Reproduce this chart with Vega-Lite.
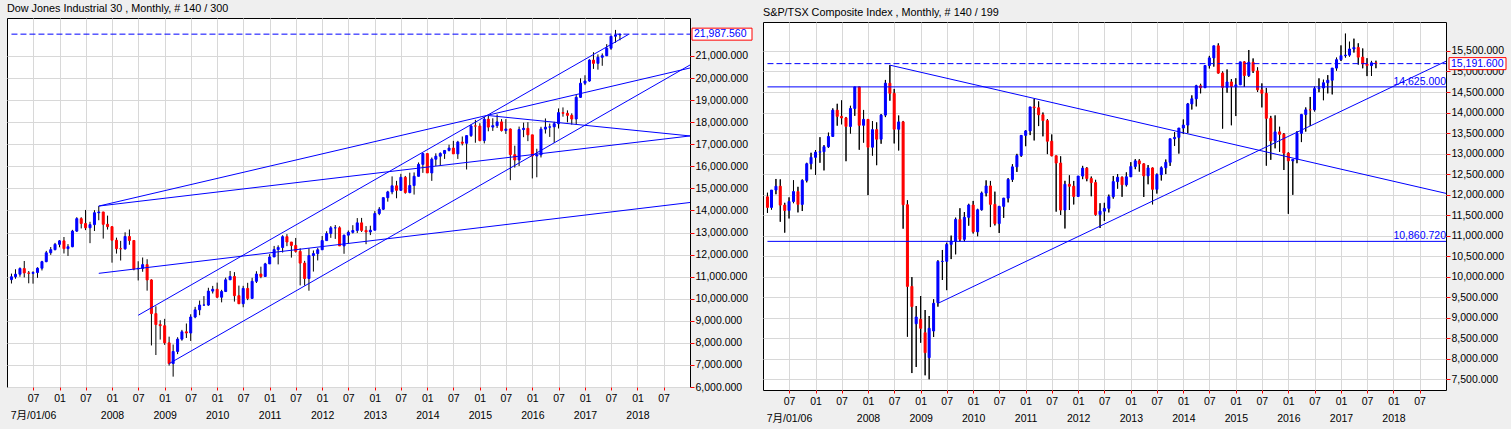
{
  "$schema": "https://vega.github.io/schema/vega-lite/v6.json",
  "background": "#efefef",
  "padding": {"left": 6, "top": 2, "right": 4, "bottom": 5},
  "bounds": "flush",
  "spacing": 73,
  "config": {
    "font": "Liberation Sans, Noto Sans CJK JP, sans-serif",
    "view": {"stroke": "#000000", "fill": "#ffffff", "strokeWidth": 1},
    "axis": {"gridColor": "#d8d8d8", "gridWidth": 1, "gridOpacity": 1, "tickColor": "#ff0000", "domain": false, "labelFont": "Liberation Sans, Noto Sans CJK JP, sans-serif", "labelFontSize": 10.5, "labelColor": "#000000", "title": null, "labelOverlap": false},
    "title": {"anchor": "start", "fontSize": 10.8, "fontWeight": "normal", "color": "#000000", "offset": 4, "font": "Liberation Sans, sans-serif"}
  },
  "datasets": {
    "dow": [
      {"t":"2006-02-01","o":10864.86,"h":11137,"l":10689,"c":10993.41},
      {"t":"2006-03-01","o":10993.41,"h":11334,"l":10906,"c":11109.32},
      {"t":"2006-04-01","o":11109.32,"h":11419,"l":10996,"c":11367.14},
      {"t":"2006-05-01","o":11367.14,"h":11709,"l":10965,"c":11168.31},
      {"t":"2006-06-01","o":11168.31,"h":11255,"l":10698,"c":11150.22},
      {"t":"2006-07-01","o":11150.22,"h":11244,"l":10683,"c":11185.68},
      {"t":"2006-08-01","o":11185.68,"h":11424,"l":10946,"c":11381.15},
      {"t":"2006-09-01","o":11381.15,"h":11718,"l":11280,"c":11679.07},
      {"t":"2006-10-01","o":11679.07,"h":12167,"l":11655,"c":12080.73},
      {"t":"2006-11-01","o":12080.73,"h":12342,"l":11986,"c":12221.93},
      {"t":"2006-12-01","o":12221.93,"h":12529,"l":12194,"c":12463.15},
      {"t":"2007-01-01","o":12463.15,"h":12657,"l":12330,"c":12621.69},
      {"t":"2007-02-01","o":12621.69,"h":12796,"l":12050,"c":12268.63},
      {"t":"2007-03-01","o":12268.63,"h":12474,"l":11939,"c":12354.35},
      {"t":"2007-04-01","o":12354.35,"h":13120,"l":12334,"c":13062.91},
      {"t":"2007-05-01","o":13062.91,"h":13693,"l":13026,"c":13627.64},
      {"t":"2007-06-01","o":13627.64,"h":13692,"l":13183,"c":13408.62},
      {"t":"2007-07-01","o":13408.62,"h":14022,"l":13108,"c":13211.99},
      {"t":"2007-08-01","o":13211.99,"h":13485,"l":12517,"c":13357.74},
      {"t":"2007-09-01","o":13357.74,"h":14011,"l":13067,"c":13895.63},
      {"t":"2007-10-01","o":13895.63,"h":14198,"l":13555,"c":13930.01},
      {"t":"2007-11-01","o":13930.01,"h":13936,"l":12724,"c":13371.72},
      {"t":"2007-12-01","o":13371.72,"h":13765,"l":13133,"c":13264.82},
      {"t":"2008-01-01","o":13264.82,"h":13279,"l":11634,"c":12650.36},
      {"t":"2008-02-01","o":12650.36,"h":12767,"l":12045,"c":12266.39},
      {"t":"2008-03-01","o":12266.39,"h":12622,"l":11731,"c":12262.89},
      {"t":"2008-04-01","o":12262.89,"h":13010,"l":12219,"c":12820.13},
      {"t":"2008-05-01","o":12820.13,"h":13136,"l":12445,"c":12638.32},
      {"t":"2008-06-01","o":12638.32,"h":12657,"l":11287,"c":11350.01},
      {"t":"2008-07-01","o":11350.01,"h":11698,"l":10827,"c":11378.02},
      {"t":"2008-08-01","o":11378.02,"h":11867,"l":11221,"c":11543.55},
      {"t":"2008-09-01","o":11543.55,"h":11790,"l":10365,"c":10850.66},
      {"t":"2008-10-01","o":10850.66,"h":10882,"l":7882,"c":9325.01},
      {"t":"2008-11-01","o":9325.01,"h":9654,"l":7449,"c":8829.04},
      {"t":"2008-12-01","o":8829.04,"h":9026,"l":8149,"c":8776.39},
      {"t":"2009-01-01","o":8776.39,"h":9088,"l":7909,"c":8000.86},
      {"t":"2009-02-01","o":8000.86,"h":8281,"l":6970,"c":7062.93},
      {"t":"2009-03-01","o":7062.93,"h":7924,"l":6469,"c":7608.92},
      {"t":"2009-04-01","o":7608.92,"h":8254,"l":7490,"c":8168.12},
      {"t":"2009-05-01","o":8168.12,"h":8588,"l":8098,"c":8500.33},
      {"t":"2009-06-01","o":8500.33,"h":8877,"l":8221,"c":8447.0},
      {"t":"2009-07-01","o":8447.0,"h":9296,"l":8087,"c":9171.61},
      {"t":"2009-08-01","o":9171.61,"h":9630,"l":9116,"c":9496.28},
      {"t":"2009-09-01","o":9496.28,"h":9917,"l":9253,"c":9712.28},
      {"t":"2009-10-01","o":9712.28,"h":10119,"l":9680,"c":9712.73},
      {"t":"2009-11-01","o":9712.73,"h":10496,"l":9678,"c":10344.84},
      {"t":"2009-12-01","o":10344.84,"h":10580,"l":10236,"c":10428.05},
      {"t":"2010-01-01","o":10428.05,"h":10729,"l":10026,"c":10067.33},
      {"t":"2010-02-01","o":10067.33,"h":10403,"l":9835,"c":10325.26},
      {"t":"2010-03-01","o":10325.26,"h":10954,"l":10314,"c":10856.63},
      {"t":"2010-04-01","o":10856.63,"h":11258,"l":10856,"c":11008.61},
      {"t":"2010-05-01","o":11008.61,"h":11205,"l":9870,"c":10136.63},
      {"t":"2010-06-01","o":10136.63,"h":10595,"l":9757,"c":9774.02},
      {"t":"2010-07-01","o":9774.02,"h":10584,"l":9614,"c":10465.94},
      {"t":"2010-08-01","o":10465.94,"h":10720,"l":9936,"c":10014.72},
      {"t":"2010-09-01","o":10014.72,"h":10948,"l":10010,"c":10788.05},
      {"t":"2010-10-01","o":10788.05,"h":11244,"l":10711,"c":11118.49},
      {"t":"2010-11-01","o":11118.49,"h":11451,"l":10929,"c":11006.02},
      {"t":"2010-12-01","o":11006.02,"h":11625,"l":11006,"c":11577.51},
      {"t":"2011-01-01","o":11577.51,"h":12020,"l":11578,"c":11891.93},
      {"t":"2011-02-01","o":11891.93,"h":12391,"l":11893,"c":12226.34},
      {"t":"2011-03-01","o":12226.34,"h":12419,"l":11555,"c":12319.73},
      {"t":"2011-04-01","o":12319.73,"h":12876,"l":12093,"c":12810.54},
      {"t":"2011-05-01","o":12810.54,"h":12928,"l":12381,"c":12569.79},
      {"t":"2011-06-01","o":12569.79,"h":12570,"l":11862,"c":12414.34},
      {"t":"2011-07-01","o":12414.34,"h":12753,"l":12088,"c":12143.24},
      {"t":"2011-08-01","o":12143.24,"h":12284,"l":10604,"c":11613.53},
      {"t":"2011-09-01","o":11613.53,"h":11716,"l":10597,"c":10913.38},
      {"t":"2011-10-01","o":10913.38,"h":12284,"l":10362,"c":11955.01},
      {"t":"2011-11-01","o":11955.01,"h":12187,"l":11231,"c":12045.68},
      {"t":"2011-12-01","o":12045.68,"h":12294,"l":11735,"c":12217.56},
      {"t":"2012-01-01","o":12217.56,"h":12841,"l":12218,"c":12632.91},
      {"t":"2012-02-01","o":12632.91,"h":13055,"l":12627,"c":12952.07},
      {"t":"2012-03-01","o":12952.07,"h":13290,"l":12757,"c":13212.04},
      {"t":"2012-04-01","o":13212.04,"h":13338,"l":12710,"c":13213.63},
      {"t":"2012-05-01","o":13213.63,"h":13280,"l":12392,"c":12393.45},
      {"t":"2012-06-01","o":12393.45,"h":12898,"l":12036,"c":12880.09},
      {"t":"2012-07-01","o":12880.09,"h":13091,"l":12492,"c":13008.68},
      {"t":"2012-08-01","o":13008.68,"h":13331,"l":12956,"c":13090.84},
      {"t":"2012-09-01","o":13090.84,"h":13653,"l":12978,"c":13437.13},
      {"t":"2012-10-01","o":13437.13,"h":13661,"l":13027,"c":13096.46},
      {"t":"2012-11-01","o":13096.46,"h":13290,"l":12471,"c":13025.58},
      {"t":"2012-12-01","o":13025.58,"h":13307,"l":12883,"c":13104.14},
      {"t":"2013-01-01","o":13104.14,"h":13970,"l":13104,"c":13860.58},
      {"t":"2013-02-01","o":13860.58,"h":14150,"l":13784,"c":14054.49},
      {"t":"2013-03-01","o":14054.49,"h":14586,"l":14020,"c":14578.54},
      {"t":"2013-04-01","o":14578.54,"h":14888,"l":14398,"c":14839.8},
      {"t":"2013-05-01","o":14839.8,"h":15542,"l":14733,"c":15115.57},
      {"t":"2013-06-01","o":15115.57,"h":15340,"l":14551,"c":14909.6},
      {"t":"2013-07-01","o":14909.6,"h":15658,"l":14910,"c":15499.54},
      {"t":"2013-08-01","o":15499.54,"h":15563,"l":14760,"c":14810.31},
      {"t":"2013-09-01","o":14810.31,"h":15709,"l":14777,"c":15129.67},
      {"t":"2013-10-01","o":15129.67,"h":15722,"l":14719,"c":15545.75},
      {"t":"2013-11-01","o":15545.75,"h":16174,"l":15545,"c":16086.41},
      {"t":"2013-12-01","o":16086.41,"h":16588,"l":15703,"c":16576.66},
      {"t":"2014-01-01","o":16576.66,"h":16589,"l":15699,"c":15698.85},
      {"t":"2014-02-01","o":15698.85,"h":16398,"l":15340,"c":16321.71},
      {"t":"2014-03-01","o":16321.71,"h":16588,"l":16015,"c":16457.66},
      {"t":"2014-04-01","o":16457.66,"h":16631,"l":16015,"c":16580.84},
      {"t":"2014-05-01","o":16580.84,"h":16735,"l":16334,"c":16717.17},
      {"t":"2014-06-01","o":16717.17,"h":16978,"l":16674,"c":16826.6},
      {"t":"2014-07-01","o":16826.6,"h":17151,"l":16563,"c":16563.3},
      {"t":"2014-08-01","o":16563.3,"h":17153,"l":16334,"c":17098.45},
      {"t":"2014-09-01","o":17098.45,"h":17350,"l":16945,"c":17042.9},
      {"t":"2014-10-01","o":17042.9,"h":17395,"l":15855,"c":17390.52},
      {"t":"2014-11-01","o":17390.52,"h":17895,"l":17331,"c":17828.24},
      {"t":"2014-12-01","o":17828.24,"h":18103,"l":17067,"c":17823.07},
      {"t":"2015-01-01","o":17823.07,"h":17951,"l":17136,"c":17164.95},
      {"t":"2015-02-01","o":17164.95,"h":18244,"l":17037,"c":18132.7},
      {"t":"2015-03-01","o":18132.7,"h":18289,"l":17585,"c":17776.12},
      {"t":"2015-04-01","o":17776.12,"h":18175,"l":17603,"c":17840.52},
      {"t":"2015-05-01","o":17840.52,"h":18351,"l":17735,"c":18010.68},
      {"t":"2015-06-01","o":18010.68,"h":18137,"l":17576,"c":17619.51},
      {"t":"2015-07-01","o":17619.51,"h":18137,"l":17465,"c":17689.86},
      {"t":"2015-08-01","o":17689.86,"h":17712,"l":15370,"c":16528.03},
      {"t":"2015-09-01","o":16528.03,"h":16933,"l":15942,"c":16284.7},
      {"t":"2015-10-01","o":16284.7,"h":17799,"l":16013,"c":17663.54},
      {"t":"2015-11-01","o":17663.54,"h":17978,"l":17320,"c":17719.92},
      {"t":"2015-12-01","o":17719.92,"h":17996,"l":17139,"c":17425.03},
      {"t":"2016-01-01","o":17425.03,"h":17425,"l":15451,"c":16466.3},
      {"t":"2016-02-01","o":16466.3,"h":16795,"l":15503,"c":16516.5},
      {"t":"2016-03-01","o":16516.5,"h":17790,"l":16400,"c":17685.09},
      {"t":"2016-04-01","o":17685.09,"h":18167,"l":17484,"c":17773.64},
      {"t":"2016-05-01","o":17773.64,"h":17934,"l":17331,"c":17787.2},
      {"t":"2016-06-01","o":17787.2,"h":18016,"l":17063,"c":17929.99},
      {"t":"2016-07-01","o":17929.99,"h":18622,"l":17713,"c":18432.24},
      {"t":"2016-08-01","o":18432.24,"h":18668,"l":18247,"c":18400.88},
      {"t":"2016-09-01","o":18400.88,"h":18534,"l":17992,"c":18308.15},
      {"t":"2016-10-01","o":18308.15,"h":18399,"l":17888,"c":18142.42},
      {"t":"2016-11-01","o":18142.42,"h":19226,"l":17884,"c":19123.58},
      {"t":"2016-12-01","o":19123.58,"h":19987,"l":19098,"c":19762.6},
      {"t":"2017-01-01","o":19762.6,"h":20125,"l":19678,"c":19864.09},
      {"t":"2017-02-01","o":19864.09,"h":20851,"l":19831,"c":20812.24},
      {"t":"2017-03-01","o":20812.24,"h":21169,"l":20413,"c":20663.22},
      {"t":"2017-04-01","o":20663.22,"h":21071,"l":20379,"c":20940.51},
      {"t":"2017-05-01","o":20940.51,"h":21113,"l":20554,"c":21008.65},
      {"t":"2017-06-01","o":21008.65,"h":21535,"l":20994,"c":21349.63},
      {"t":"2017-07-01","o":21349.63,"h":21930,"l":21279,"c":21891.12},
      {"t":"2017-08-01","o":21891.12,"h":22179,"l":21600,"c":21948.1},
      {"t":"2017-09-01","o":21948.1,"h":22000,"l":21709,"c":21987.56}
    ],
    "tsx": [
      {"t":"2006-02-01","o":11946,"h":12045,"l":11555,"c":11688},
      {"t":"2006-03-01","o":11688,"h":12112,"l":11635,"c":12111},
      {"t":"2006-04-01","o":12111,"h":12381,"l":12009,"c":12204},
      {"t":"2006-05-01","o":12204,"h":12371,"l":11339,"c":11745},
      {"t":"2006-06-01","o":11745,"h":11800,"l":11073,"c":11613},
      {"t":"2006-07-01","o":11613,"h":11933,"l":11419,"c":11832},
      {"t":"2006-08-01","o":11832,"h":12349,"l":11791,"c":12074},
      {"t":"2006-09-01","o":12074,"h":12190,"l":11567,"c":11761},
      {"t":"2006-10-01","o":11761,"h":12370,"l":11600,"c":12345},
      {"t":"2006-11-01","o":12345,"h":12775,"l":12299,"c":12752},
      {"t":"2006-12-01","o":12752,"h":13020,"l":12616,"c":12908},
      {"t":"2007-01-01","o":12908,"h":13086,"l":12480,"c":13034},
      {"t":"2007-02-01","o":13034,"h":13399,"l":12776,"c":13045},
      {"t":"2007-03-01","o":13045,"h":13205,"l":12590,"c":13166},
      {"t":"2007-04-01","o":13166,"h":13510,"l":13140,"c":13417},
      {"t":"2007-05-01","o":13417,"h":14101,"l":13410,"c":14057},
      {"t":"2007-06-01","o":14057,"h":14213,"l":13680,"c":13907},
      {"t":"2007-07-01","o":13907,"h":14296,"l":13713,"c":13869},
      {"t":"2007-08-01","o":13869,"h":13892,"l":12814,"c":13660},
      {"t":"2007-09-01","o":13660,"h":14164,"l":13489,"c":14099},
      {"t":"2007-10-01","o":14099,"h":14625,"l":13920,"c":14625},
      {"t":"2007-11-01","o":14625,"h":14630,"l":13093,"c":13689},
      {"t":"2007-12-01","o":13689,"h":14063,"l":13267,"c":13833},
      {"t":"2008-01-01","o":13833,"h":13838,"l":11988,"c":13155},
      {"t":"2008-02-01","o":13155,"h":13791,"l":12951,"c":13583},
      {"t":"2008-03-01","o":13583,"h":13760,"l":12717,"c":13350},
      {"t":"2008-04-01","o":13350,"h":13962,"l":13240,"c":13937},
      {"t":"2008-05-01","o":13937,"h":14794,"l":13889,"c":14715},
      {"t":"2008-06-01","o":14715,"h":15155,"l":14289,"c":14467},
      {"t":"2008-07-01","o":14467,"h":14575,"l":13247,"c":13593},
      {"t":"2008-08-01","o":13593,"h":13927,"l":13076,"c":13771},
      {"t":"2008-09-01","o":13771,"h":13795,"l":11170,"c":11753},
      {"t":"2008-10-01","o":11753,"h":11862,"l":8537,"c":9763},
      {"t":"2008-11-01","o":9763,"h":9990,"l":7652,"c":9271},
      {"t":"2008-12-01","o":8854,"h":9286,"l":7800,"c":9018},
      {"t":"2009-01-01","o":8962,"h":9529,"l":8391,"c":8742},
      {"t":"2009-02-01","o":8635,"h":9188,"l":7597,"c":8148},
      {"t":"2009-03-01","o":8026,"h":9042,"l":7500,"c":8742},
      {"t":"2009-04-01","o":8677,"h":9450,"l":8530,"c":9352},
      {"t":"2009-05-01","o":9366,"h":10401,"l":9270,"c":10370},
      {"t":"2009-06-01","o":10370,"h":10651,"l":9919,"c":10375},
      {"t":"2009-07-01","o":10375,"h":10828,"l":9672,"c":10787},
      {"t":"2009-08-01","o":10787,"h":11001,"l":10429,"c":10868},
      {"t":"2009-09-01","o":10868,"h":11438,"l":10545,"c":11395},
      {"t":"2009-10-01","o":11395,"h":11668,"l":10863,"c":10911},
      {"t":"2009-11-01","o":10911,"h":11574,"l":10862,"c":11447},
      {"t":"2009-12-01","o":11447,"h":11776,"l":11243,"c":11746},
      {"t":"2010-01-01","o":11746,"h":11846,"l":11053,"c":11094},
      {"t":"2010-02-01","o":11094,"h":11654,"l":10986,"c":11630},
      {"t":"2010-03-01","o":11630,"h":12071,"l":11613,"c":12038},
      {"t":"2010-04-01","o":12038,"h":12347,"l":11958,"c":12211},
      {"t":"2010-05-01","o":12211,"h":12333,"l":11209,"c":11763},
      {"t":"2010-06-01","o":11763,"h":12072,"l":11250,"c":11294},
      {"t":"2010-07-01","o":11294,"h":11725,"l":11065,"c":11713},
      {"t":"2010-08-01","o":11713,"h":11920,"l":11435,"c":11914},
      {"t":"2010-09-01","o":11914,"h":12402,"l":11811,"c":12369},
      {"t":"2010-10-01","o":12369,"h":12740,"l":12310,"c":12676},
      {"t":"2010-11-01","o":12676,"h":12993,"l":12553,"c":12953},
      {"t":"2010-12-01","o":12953,"h":13450,"l":12920,"c":13443},
      {"t":"2011-01-01","o":13443,"h":13570,"l":13180,"c":13552},
      {"t":"2011-02-01","o":13552,"h":14136,"l":13450,"c":14137},
      {"t":"2011-03-01","o":14137,"h":14329,"l":13320,"c":14116},
      {"t":"2011-04-01","o":14116,"h":14270,"l":13670,"c":13945},
      {"t":"2011-05-01","o":13945,"h":14000,"l":13420,"c":13803},
      {"t":"2011-06-01","o":13803,"h":13839,"l":12987,"c":13301},
      {"t":"2011-07-01","o":13301,"h":13465,"l":12935,"c":12946},
      {"t":"2011-08-01","o":12946,"h":12950,"l":11585,"c":12769},
      {"t":"2011-09-01","o":12769,"h":12933,"l":11505,"c":11624},
      {"t":"2011-10-01","o":11624,"h":12336,"l":11175,"c":12252},
      {"t":"2011-11-01","o":12252,"h":12470,"l":11625,"c":12204},
      {"t":"2011-12-01","o":12204,"h":12333,"l":11760,"c":11955},
      {"t":"2012-01-01","o":11955,"h":12452,"l":11952,"c":12452},
      {"t":"2012-02-01","o":12452,"h":12700,"l":12377,"c":12644},
      {"t":"2012-03-01","o":12644,"h":12670,"l":12326,"c":12392},
      {"t":"2012-04-01","o":12392,"h":12440,"l":11960,"c":12293},
      {"t":"2012-05-01","o":12293,"h":12360,"l":11490,"c":11513},
      {"t":"2012-06-01","o":11513,"h":11790,"l":11187,"c":11597},
      {"t":"2012-07-01","o":11597,"h":11800,"l":11357,"c":11665},
      {"t":"2012-08-01","o":11665,"h":12000,"l":11566,"c":11949},
      {"t":"2012-09-01","o":11949,"h":12454,"l":11902,"c":12317},
      {"t":"2012-10-01","o":12317,"h":12500,"l":12145,"c":12423},
      {"t":"2012-11-01","o":12423,"h":12441,"l":11947,"c":12239},
      {"t":"2012-12-01","o":12239,"h":12542,"l":12200,"c":12434},
      {"t":"2013-01-01","o":12434,"h":12790,"l":12430,"c":12685},
      {"t":"2013-02-01","o":12685,"h":12864,"l":12620,"c":12822},
      {"t":"2013-03-01","o":12822,"h":12862,"l":12560,"c":12750},
      {"t":"2013-04-01","o":12750,"h":12760,"l":11943,"c":12457},
      {"t":"2013-05-01","o":12457,"h":12720,"l":12252,"c":12650},
      {"t":"2013-06-01","o":12650,"h":12660,"l":11762,"c":12129},
      {"t":"2013-07-01","o":12129,"h":12513,"l":12026,"c":12487},
      {"t":"2013-08-01","o":12487,"h":12685,"l":12344,"c":12654},
      {"t":"2013-09-01","o":12654,"h":12855,"l":12500,"c":12787},
      {"t":"2013-10-01","o":12787,"h":13361,"l":12700,"c":13361},
      {"t":"2013-11-01","o":13361,"h":13522,"l":13187,"c":13395},
      {"t":"2013-12-01","o":13395,"h":13622,"l":13000,"c":13622},
      {"t":"2014-01-01","o":13622,"h":13830,"l":13480,"c":13695},
      {"t":"2014-02-01","o":13695,"h":14233,"l":13500,"c":14210},
      {"t":"2014-03-01","o":14210,"h":14418,"l":14074,"c":14335},
      {"t":"2014-04-01","o":14335,"h":14674,"l":14150,"c":14652},
      {"t":"2014-05-01","o":14652,"h":14700,"l":14468,"c":14604},
      {"t":"2014-06-01","o":14604,"h":15146,"l":14600,"c":15146},
      {"t":"2014-07-01","o":15146,"h":15380,"l":15075,"c":15331},
      {"t":"2014-08-01","o":15331,"h":15626,"l":15119,"c":15626},
      {"t":"2014-09-01","o":15626,"h":15685,"l":14950,"c":14961},
      {"t":"2014-10-01","o":14961,"h":15000,"l":13608,"c":14613},
      {"t":"2014-11-01","o":14613,"h":15050,"l":14483,"c":14745},
      {"t":"2014-12-01","o":14745,"h":14815,"l":13690,"c":14632},
      {"t":"2015-01-01","o":14632,"h":14835,"l":13914,"c":14674},
      {"t":"2015-02-01","o":14674,"h":15234,"l":14700,"c":15234},
      {"t":"2015-03-01","o":15234,"h":15250,"l":14623,"c":14902},
      {"t":"2015-04-01","o":14902,"h":15524,"l":14870,"c":15225},
      {"t":"2015-05-01","o":15225,"h":15318,"l":14964,"c":15014},
      {"t":"2015-06-01","o":15014,"h":15100,"l":14500,"c":14553},
      {"t":"2015-07-01","o":14553,"h":14710,"l":14125,"c":14468},
      {"t":"2015-08-01","o":14468,"h":14600,"l":12705,"c":13859},
      {"t":"2015-09-01","o":13859,"h":13918,"l":12848,"c":13307},
      {"t":"2015-10-01","o":13307,"h":13930,"l":13128,"c":13529},
      {"t":"2015-11-01","o":13529,"h":13653,"l":13044,"c":13470},
      {"t":"2015-12-01","o":13470,"h":13500,"l":12600,"c":13010},
      {"t":"2016-01-01","o":13010,"h":13030,"l":11531,"c":12822},
      {"t":"2016-02-01","o":12822,"h":12862,"l":11995,"c":12860},
      {"t":"2016-03-01","o":12860,"h":13545,"l":12765,"c":13494},
      {"t":"2016-04-01","o":13494,"h":13966,"l":13280,"c":13951},
      {"t":"2016-05-01","o":13951,"h":14124,"l":13536,"c":14066},
      {"t":"2016-06-01","o":14066,"h":14380,"l":13672,"c":14065},
      {"t":"2016-07-01","o":14065,"h":14630,"l":14027,"c":14583},
      {"t":"2016-08-01","o":14583,"h":14833,"l":14495,"c":14598},
      {"t":"2016-09-01","o":14598,"h":14800,"l":14300,"c":14726},
      {"t":"2016-10-01","o":14726,"h":14911,"l":14467,"c":14787},
      {"t":"2016-11-01","o":14787,"h":15083,"l":14442,"c":15083},
      {"t":"2016-12-01","o":15083,"h":15338,"l":15022,"c":15288},
      {"t":"2017-01-01","o":15288,"h":15636,"l":15255,"c":15386},
      {"t":"2017-02-01","o":15386,"h":15923,"l":15340,"c":15399},
      {"t":"2017-03-01","o":15399,"h":15726,"l":15364,"c":15548},
      {"t":"2017-04-01","o":15548,"h":15800,"l":15462,"c":15586},
      {"t":"2017-05-01","o":15586,"h":15687,"l":15168,"c":15350},
      {"t":"2017-06-01","o":15350,"h":15561,"l":15078,"c":15182},
      {"t":"2017-07-01","o":15182,"h":15324,"l":14888,"c":15144},
      {"t":"2017-08-01","o":15144,"h":15258,"l":14891,"c":15212},
      {"t":"2017-09-01","o":15212,"h":15263,"l":15080,"c":15191.6}
    ],
    "dowLines": [
      {"id":"A","t":"2007-10-01","v":14198},{"id":"A","t":"2019-01-01","v":20454},
      {"id":"B","t":"2007-10-01","v":14198},{"id":"B","t":"2019-01-01","v":17375},
      {"id":"C","t":"2015-03-01","v":18300},{"id":"C","t":"2019-01-01","v":17375},
      {"id":"L","t":"2007-10-01","v":11150},{"id":"L","t":"2019-01-01","v":14360},
      {"id":"CL","t":"2009-02-01","v":7060},{"id":"CL","t":"2019-01-01","v":20590},
      {"id":"CU","t":"2008-07-01","v":9250},{"id":"CU","t":"2017-11-01","v":21980}
    ],
    "dowDash": [
      {"t":"2006-02-01","v":21987.56},{"t":"2019-01-01","v":21987.56}
    ],
    "dowLast": [{"v":21987.56,"label":"21,987.560"}],
    "tsxLines": [
      {"id":"H1","t":"2006-02-01","v":14625},{"id":"H1","t":"2019-01-01","v":14625},
      {"id":"H2","t":"2006-02-01","v":10860.72},{"id":"H2","t":"2019-01-01","v":10860.72},
      {"id":"D","t":"2008-06-01","v":15155},{"id":"D","t":"2019-01-01","v":12030},
      {"id":"U","t":"2009-05-01","v":9350},{"id":"U","t":"2019-01-01","v":15250}
    ],
    "tsxDash": [
      {"t":"2006-02-01","v":15191.6},{"t":"2019-01-01","v":15191.6}
    ],
    "tsxLast": [{"v":15191.6,"label":"15,191.600"}],
    "tsxLevels": [{"v":14625,"label":"14,625.000"},{"v":10860.72,"label":"10,860.720"}]
  },
  "hconcat": [
    {
      "width": 683,
      "height": 369,
      "title": {"text": "Dow Jones Industrial 30 , Monthly, # 140 / 300"},
      "layer": [
        {
          "data": {"name": "dow"},
          "mark": {"type": "rule", "color": "#000000", "strokeWidth": 1},
          "encoding": {
            "x": {"field": "t", "type": "temporal",
              "scale": {"type": "utc", "domain": [1136073600000, 1546300800000], "nice": false, "padding": 0},
              "axis": {"orient": "bottom", "title": null, "grid": true, "domain": false, "tickSize": 3, "labelPadding": 3, "labelLineHeight": 17, "labelOverlap": false, "labelFlush": false, "labelBound": false, "tickCount": 100,
                "values": [1151712000000, 1167609600000, 1183248000000, 1199145600000, 1214870400000, 1230768000000, 1246406400000, 1262304000000, 1277942400000, 1293840000000, 1309478400000, 1325376000000, 1341100800000, 1356998400000, 1372636800000, 1388534400000, 1404172800000, 1420070400000, 1435708800000, 1451606400000, 1467331200000, 1483228800000, 1498867200000, 1514764800000, 1530403200000],
                "labelExpr": "utcmonth(datum.value) == 6 ? (utcyear(datum.value) == 2006 ? ['07', '7月/01/06'] : '07') : (utcyear(datum.value) == 2007 ? '01' : ['01', '' + utcyear(datum.value)])"
              }
            },
            "y": {"field": "l", "type": "quantitative",
              "scale": {"domain": [6000, 22719], "nice": false, "zero": false},
              "axis": {"orient": "right", "title": null, "grid": true, "domain": false, "tickSize": 4, "labelPadding": 1, "format": ",.3f", "labelOverlap": false, "tickCount": 100,
                "values": [6000, 7000, 8000, 9000, 10000, 11000, 12000, 13000, 14000, 15000, 16000, 17000, 18000, 19000, 20000, 21000]}
            },
            "y2": {"field": "h"}
          }
        },
        {
          "data": {"name": "dow"},
          "mark": {"type": "bar", "width": 2, "strokeWidth": 1},
          "encoding": {
            "x": {"field": "t", "type": "temporal"},
            "y": {"field": "o", "type": "quantitative"},
            "y2": {"field": "c"},
            "fill": {"condition": {"test": "datum.c < datum.o", "value": "#ff0000"}, "value": "#0000ff"},
            "stroke": {"condition": {"test": "datum.c < datum.o", "value": "#ff0000"}, "value": "#0000ff"}
          }
        },
        {
          "data": {"name": "dowLines"},
          "mark": {"type": "line", "color": "#0000ff", "strokeWidth": 1},
          "encoding": {
            "x": {"field": "t", "type": "temporal"},
            "y": {"field": "v", "type": "quantitative"},
            "detail": {"field": "id"}
          }
        },
        {
          "data": {"name": "dowDash"},
          "mark": {"type": "line", "color": "#0000ff", "strokeWidth": 1, "strokeDash": [6, 3]},
          "encoding": {
            "x": {"field": "t", "type": "temporal"},
            "y": {"field": "v", "type": "quantitative"}
          }
        },
        {
          "data": {"name": "dowLast"},
          "mark": {"type": "rect", "fill": "#ffffff", "stroke": "#ff0000", "strokeWidth": 1, "xOffset": 2, "x2Offset": 62, "yOffset": -6, "y2Offset": 6},
          "encoding": {
            "x": {"datum": 1546300800000, "type": "temporal"},
            "x2": {"datum": 1546300800000},
            "y": {"field": "v", "type": "quantitative"},
            "y2": {"field": "v"}
          }
        },
        {
          "data": {"name": "dowLast"},
          "mark": {"type": "text", "align": "left", "baseline": "middle", "dx": 4, "color": "#0000ff", "fontSize": 10.5},
          "encoding": {
            "x": {"datum": 1546300800000, "type": "temporal"},
            "y": {"field": "v", "type": "quantitative"},
            "text": {"field": "label"}
          }
        }
      ]
    },
    {
      "bounds": "flush",
      "spacing": 3,
      "vconcat": [
        {
          "width": 683,
          "height": 1,
          "data": {"values": [{"a": 1}]},
          "mark": {"type": "point", "opacity": 0},
          "encoding": {},
          "view": {"stroke": null, "fill": null}
        },
        {
          "width": 683,
          "height": 368,
          "title": {"text": "S&P/TSX Composite Index , Monthly, # 140 / 199"},
          "layer": [
            {
              "data": {"name": "tsx"},
              "mark": {"type": "rule", "color": "#000000", "strokeWidth": 1},
              "encoding": {
                "x": {"field": "t", "type": "temporal",
                  "scale": {"type": "utc", "domain": [1136073600000, 1546300800000], "nice": false, "padding": 0},
                  "axis": {"orient": "bottom", "title": null, "grid": true, "domain": false, "tickSize": 3, "labelPadding": 3, "labelLineHeight": 17, "labelOverlap": false, "labelFlush": false, "labelBound": false, "tickCount": 100,
                    "values": [1151712000000, 1167609600000, 1183248000000, 1199145600000, 1214870400000, 1230768000000, 1246406400000, 1262304000000, 1277942400000, 1293840000000, 1309478400000, 1325376000000, 1341100800000, 1356998400000, 1372636800000, 1388534400000, 1404172800000, 1420070400000, 1435708800000, 1451606400000, 1467331200000, 1483228800000, 1498867200000, 1514764800000, 1530403200000],
                    "labelExpr": "utcmonth(datum.value) == 6 ? (utcyear(datum.value) == 2006 ? ['07', '7月/01/06'] : '07') : (utcyear(datum.value) == 2007 ? '01' : ['01', '' + utcyear(datum.value)])"
                  }
                },
                "y": {"field": "l", "type": "quantitative",
                  "scale": {"domain": [7239, 16206], "nice": false, "zero": false},
                  "axis": {"orient": "right", "title": null, "grid": true, "domain": false, "tickSize": 4, "labelPadding": 1, "format": ",.3f", "labelOverlap": false, "tickCount": 100,
                    "values": [7500, 8000, 8500, 9000, 9500, 10000, 10500, 11000, 11500, 12000, 12500, 13000, 13500, 14000, 14500, 15000, 15500]}
                },
                "y2": {"field": "h"}
              }
            },
            {
              "mark": {"type": "rule", "color": "#d8d8d8", "strokeWidth": 1},
              "encoding": {"y": {"datum": 16000, "type": "quantitative"}}
            },
            {
              "data": {"name": "tsx"},
              "mark": {"type": "rule", "color": "#000000", "strokeWidth": 1},
              "encoding": {
                "x": {"field": "t", "type": "temporal"},
                "y": {"field": "l", "type": "quantitative"},
                "y2": {"field": "h"}
              }
            },
            {
              "data": {"name": "tsx"},
              "mark": {"type": "bar", "width": 2, "strokeWidth": 1},
              "encoding": {
                "x": {"field": "t", "type": "temporal"},
                "y": {"field": "o", "type": "quantitative"},
                "y2": {"field": "c"},
                "fill": {"condition": {"test": "datum.c < datum.o", "value": "#ff0000"}, "value": "#0000ff"},
                "stroke": {"condition": {"test": "datum.c < datum.o", "value": "#ff0000"}, "value": "#0000ff"}
              }
            },
            {
              "data": {"name": "tsxLines"},
              "mark": {"type": "line", "color": "#0000ff", "strokeWidth": 1},
              "encoding": {
                "x": {"field": "t", "type": "temporal"},
                "y": {"field": "v", "type": "quantitative"},
                "detail": {"field": "id"}
              }
            },
            {
              "data": {"name": "tsxDash"},
              "mark": {"type": "line", "color": "#0000ff", "strokeWidth": 1, "strokeDash": [6, 3]},
              "encoding": {
                "x": {"field": "t", "type": "temporal"},
                "y": {"field": "v", "type": "quantitative"}
              }
            },
            {
              "data": {"name": "tsxLevels"},
              "mark": {"type": "text", "align": "right", "baseline": "alphabetic", "dy": -2, "color": "#0000ff", "fontSize": 10.5},
              "encoding": {
                "x": {"datum": 1546300800000, "type": "temporal"},
                "y": {"field": "v", "type": "quantitative"},
                "text": {"field": "label"}
              }
            },
            {
              "data": {"name": "tsxLast"},
              "mark": {"type": "rect", "fill": "#ffffff", "stroke": "#ff0000", "strokeWidth": 1, "xOffset": 3, "x2Offset": 60, "yOffset": -6, "y2Offset": 6},
              "encoding": {
                "x": {"datum": 1546300800000, "type": "temporal"},
                "x2": {"datum": 1546300800000},
                "y": {"field": "v", "type": "quantitative"},
                "y2": {"field": "v"}
              }
            },
            {
              "data": {"name": "tsxLast"},
              "mark": {"type": "text", "align": "left", "baseline": "middle", "dx": 5, "color": "#0000ff", "fontSize": 10.5},
              "encoding": {
                "x": {"datum": 1546300800000, "type": "temporal"},
                "y": {"field": "v", "type": "quantitative"},
                "text": {"field": "label"}
              }
            }
          ]
        }
      ]
    }
  ]
}
